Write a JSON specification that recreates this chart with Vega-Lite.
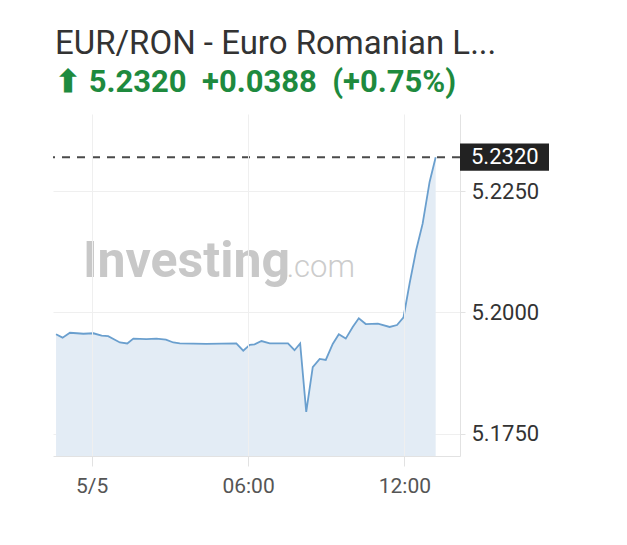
{
  "$schema": "https://vega.github.io/schema/vega-lite/v6.json",
  "width": 407,
  "height": 342,
  "autosize": {"type": "none"},
  "padding": {"left": 53, "top": 114, "right": 167, "bottom": 89},
  "background": "white",
  "title": {
    "text": "EUR/RON - Euro Romanian L...",
    "subtitle": "⬆ 5.2320\u00a0\u00a0+0.0388\u00a0\u00a0(+0.75%)",
    "anchor": "start",
    "frame": "group",
    "dx": 2,
    "font": "Roboto",
    "fontSize": 33,
    "fontWeight": "normal",
    "color": "#333333",
    "subtitleFont": "Roboto",
    "subtitleFontSize": 31,
    "subtitleFontWeight": "bold",
    "subtitleColor": "#1e8a3e",
    "subtitlePadding": 7,
    "offset": 16
  },
  "config": {
    "view": {"stroke": null},
    "font": "Roboto"
  },
  "datasets": {
    "prices": [
      {"time": "2025-05-04T22:38:00Z", "price": 5.1955},
      {"time": "2025-05-04T22:53:00Z", "price": 5.1948},
      {"time": "2025-05-04T23:10:00Z", "price": 5.1958},
      {"time": "2025-05-04T23:26:00Z", "price": 5.1957},
      {"time": "2025-05-04T23:41:00Z", "price": 5.1956},
      {"time": "2025-05-05T00:04:00Z", "price": 5.1957},
      {"time": "2025-05-05T00:23:00Z", "price": 5.1952},
      {"time": "2025-05-05T00:38:00Z", "price": 5.1951},
      {"time": "2025-05-05T01:05:00Z", "price": 5.1938},
      {"time": "2025-05-05T01:22:00Z", "price": 5.1936},
      {"time": "2025-05-05T01:36:00Z", "price": 5.1946},
      {"time": "2025-05-05T02:06:00Z", "price": 5.1945},
      {"time": "2025-05-05T02:29:00Z", "price": 5.1946},
      {"time": "2025-05-05T02:51:00Z", "price": 5.1944},
      {"time": "2025-05-05T03:08:00Z", "price": 5.1938},
      {"time": "2025-05-05T03:23:00Z", "price": 5.1936},
      {"time": "2025-05-05T04:24:00Z", "price": 5.1935},
      {"time": "2025-05-05T05:33:00Z", "price": 5.1936},
      {"time": "2025-05-05T05:49:00Z", "price": 5.1921},
      {"time": "2025-05-05T06:04:00Z", "price": 5.1933},
      {"time": "2025-05-05T06:15:00Z", "price": 5.1934},
      {"time": "2025-05-05T06:31:00Z", "price": 5.1941},
      {"time": "2025-05-05T06:50:00Z", "price": 5.1936},
      {"time": "2025-05-05T07:13:00Z", "price": 5.1936},
      {"time": "2025-05-05T07:32:00Z", "price": 5.1936},
      {"time": "2025-05-05T07:47:00Z", "price": 5.1922},
      {"time": "2025-05-05T08:00:00Z", "price": 5.1936},
      {"time": "2025-05-05T08:14:00Z", "price": 5.1795},
      {"time": "2025-05-05T08:29:00Z", "price": 5.1887},
      {"time": "2025-05-05T08:45:00Z", "price": 5.1904},
      {"time": "2025-05-05T08:59:00Z", "price": 5.1902},
      {"time": "2025-05-05T09:15:00Z", "price": 5.1935},
      {"time": "2025-05-05T09:29:00Z", "price": 5.1955},
      {"time": "2025-05-05T09:45:00Z", "price": 5.1946},
      {"time": "2025-05-05T10:01:00Z", "price": 5.1970},
      {"time": "2025-05-05T10:15:00Z", "price": 5.1988},
      {"time": "2025-05-05T10:31:00Z", "price": 5.1976},
      {"time": "2025-05-05T10:59:00Z", "price": 5.1977},
      {"time": "2025-05-05T11:26:00Z", "price": 5.1970},
      {"time": "2025-05-05T11:43:00Z", "price": 5.1974},
      {"time": "2025-05-05T11:58:00Z", "price": 5.1990},
      {"time": "2025-05-05T12:12:00Z", "price": 5.2060},
      {"time": "2025-05-05T12:27:00Z", "price": 5.2128},
      {"time": "2025-05-05T12:42:00Z", "price": 5.2183},
      {"time": "2025-05-05T12:58:00Z", "price": 5.2269},
      {"time": "2025-05-05T13:12:00Z", "price": 5.2320}
    ],
    "last": [{"price": 5.2320, "top": 5.2348, "bottom": 5.2292, "label": "5.2320"}],
    "watermark": [
      {"time": "2025-05-04T23:40:00Z", "price": 5.2073, "text": "Investing", "part": "main"},
      {"time": "2025-05-05T07:29:00Z", "price": 5.2073, "text": ".com", "part": "dom"}
    ]
  },
  "encoding": {
    "x": {
      "field": "time",
      "type": "temporal",
      "scale": {"type": "utc", "domain": ["2025-05-04T22:31:00Z", "2025-05-05T14:08:00Z"]},
      "axis": {
        "orient": "bottom",
        "title": null,
        "values": [
          {"year": 2025, "month": 5, "date": 5, "hours": 0, "utc": true},
          {"year": 2025, "month": 5, "date": 5, "hours": 6, "utc": true},
          {"year": 2025, "month": 5, "date": 5, "hours": 12, "utc": true}
        ],
        "labelExpr": "utchours(datum.value) == 0 ? '5/5' : utcFormat(datum.value, '%H:%M')",
        "grid": true,
        "gridColor": "#efefef",
        "domainColor": "#e2e2e2",
        "tickColor": "#e2e2e2",
        "tickSize": 10,
        "labelPadding": 9,
        "labelFont": "Roboto",
        "labelFontSize": 21,
        "labelColor": "#555555",
        "zindex": 1
      }
    },
    "y": {
      "field": "price",
      "type": "quantitative",
      "scale": {"domain": [5.1704, 5.2409], "nice": false, "zero": false},
      "axis": {
        "orient": "right",
        "title": null,
        "values": [5.175, 5.2, 5.225],
        "format": ".4f",
        "grid": true,
        "gridColor": "#efefef",
        "domainColor": "#e2e2e2",
        "tickColor": "#e2e2e2",
        "tickSize": 5,
        "labelPadding": 6,
        "labelFont": "Roboto",
        "labelFontSize": 22,
        "labelColor": "#333333"
      }
    }
  },
  "layer": [
    {
      "data": {"name": "watermark"},
      "transform": [{"filter": "datum.part == 'main'"}],
      "mark": {"type": "text", "align": "left", "baseline": "alphabetic", "font": "Roboto", "fontSize": 50, "fontWeight": "bold", "color": "#c8c8c8"},
      "encoding": {"text": {"field": "text"}}
    },
    {
      "data": {"name": "watermark"},
      "transform": [{"filter": "datum.part == 'dom'"}],
      "mark": {"type": "text", "align": "left", "baseline": "alphabetic", "font": "Roboto", "fontSize": 31, "fontWeight": 300, "color": "#cccccc"},
      "encoding": {"text": {"field": "text"}}
    },
    {
      "data": {"name": "prices"},
      "mark": {"type": "area", "color": "#e3ecf5", "opacity": 1},
      "encoding": {"y2": {"datum": 5.1704}}
    },
    {
      "data": {"name": "prices"},
      "mark": {"type": "line", "color": "#6a9fce", "strokeWidth": 1.8}
    },
    {
      "data": {"name": "last"},
      "mark": {"type": "rule", "color": "#4a4a4a", "strokeWidth": 2, "strokeDash": [8, 7]},
      "encoding": {"x": null, "y": {"field": "price", "type": "quantitative"}}
    },
    {
      "data": {"name": "last"},
      "mark": {"type": "rect", "color": "#222222", "clip": false},
      "encoding": {
        "x": {"value": {"expr": "width"}},
        "x2": {"value": {"expr": "width + 89"}},
        "y": {"field": "top", "type": "quantitative"},
        "y2": {"field": "bottom"}
      }
    },
    {
      "data": {"name": "last"},
      "mark": {"type": "text", "color": "white", "align": "left", "baseline": "middle", "font": "Roboto", "fontSize": 22, "clip": false},
      "encoding": {
        "x": {"value": {"expr": "width + 11"}},
        "y": {"field": "price", "type": "quantitative"},
        "text": {"field": "label"}
      }
    }
  ]
}
